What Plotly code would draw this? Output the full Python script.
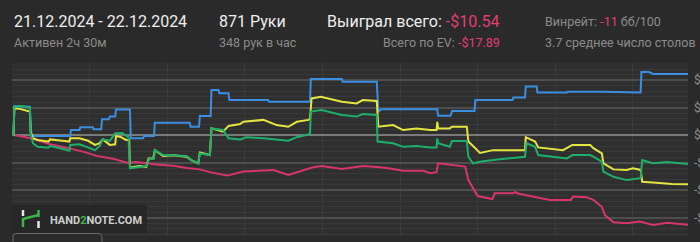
import plotly.graph_objects as go

# ---------------- data ----------------
blue_hands = [0, 2, 3, 23, 25, 75, 76, 87, 88, 104, 105, 115, 116, 125, 126, 133, 134, 152, 153, 169, 170, 183, 184,
              229, 230, 241, 242, 256, 257, 266, 267, 279, 280, 330, 331, 384, 385, 425, 426, 470, 472, 476, 548, 549,
              565, 567, 596, 597, 645, 646, 661, 662, 676, 677, 715, 716, 760, 790, 810, 811, 820, 826, 871]
blue_vals = [0, 0, 10.5, 10.3, -0.4, -0.4, 1.8, 1.8, 2.8, 2.8, 2.1, 2.1, 5.7, 5.7, 6.7, 6.7, 9.3, 9.3, -1.2, -1.2, -0.4,
             -0.4, 4.5, 4.5, 3.0, 3.0, 6.9, 6.9, 16.4, 16.4, 15.2, 15.2, 12.7, 12.7, 12.1, 12.1, 20.4, 20.4, 19.4, 19.4,
             8.5, 9.4, 9.4, 7.0, 7.0, 8.7, 8.7, 12.7, 12.7, 13.6, 13.6, 17.6, 17.6, 15.5, 15.5, 15.7, 15.7, 15.6, 15.5,
             22.9, 23.0, 22.2, 22.2]

red_hands = [0, 2, 10, 24, 36, 49, 70, 96, 109, 130, 148, 160, 186, 208, 225, 242, 255, 277, 281, 298, 337, 356, 388,
             399, 425, 452, 470, 483, 504, 530, 539, 547, 549, 564, 584, 588, 594, 600, 619, 622, 645, 649, 652, 661,
             680, 693, 720, 723, 740, 749, 760, 764, 775, 792, 809, 826, 844, 855, 871]
red_vals = [0, 0, -0.4, -1.2, -2.2, -3.4, -4.6, -6.4, -7.6, -8.6, -10.1, -9.8, -10.7, -11.2, -12.0, -12.5, -13.5, -14.7,
            -14.5, -13.3, -12.7, -14.5, -11.7, -11.3, -12.4, -11.3, -11.6, -12.0, -13.0, -13.0, -13.9, -13.5, -10.3,
            -10.9, -11.5, -16.4, -19.5, -22.2, -23.3, -21.2, -21.2, -20.8, -21.3, -21.8, -22.6, -23.6, -23.6, -22.4,
            -22.6, -23.6, -26.1, -29.1, -31.7, -32.1, -31.5, -32.7, -31.9, -32.2, -32.6]

green_hands = [0, 2, 3, 10, 23, 24, 27, 33, 47, 49, 62, 74, 75, 87, 96, 107, 113, 117, 126, 133, 142, 150, 152, 165,
               173, 177, 183, 184, 195, 225, 231, 240, 242, 255, 257, 272, 279, 294, 302, 324, 341, 356, 367, 380, 384,
               385, 399, 425, 444, 452, 470, 471, 491, 504, 521, 539, 547, 548, 549, 564, 567, 586, 588, 594, 603, 620,
               646, 661, 663, 674, 678, 715, 722, 745, 749, 760, 762, 775, 792, 810, 812, 826, 844, 855, 871]
green_vals = [0, 0, 10.3, 10.5, 10.0, 0.7, -3.0, -4.3, -4.6, -4.0, -4.8, -5.7, -3.6, -3.4, -4.3, -5.5, -4.0, -1.6, -2.1,
              0.6, 0.7, -0.8, -12.1, -11.6, -11.3, -8.5, -8.5, -5.5, -7.3, -7.6, -9.1, -10.3, -6.7, -7.3, 2.4, 1.8,
              -1.2, -1.6, -0.8, -1.2, -1.6, -2.1, -0.8, 0.0, 0.4, 8.5, 9.1, 7.3, 6.7, 7.6, 7.3, -2.4, -3.0, -4.3, -4.0,
              -4.5, -4.5, -1.2, -3.0, -4.3, -2.2, -2.2, -7.9, -10.3, -9.7, -9.1, -8.5, -7.9, -3.0, -4.3, -7.3, -8.5,
              -7.3, -7.3, -7.9, -9.7, -13.3, -15.2, -16.4, -15.7, -9.1, -10.3, -9.8, -10.0, -10.5]

yellow_hands = [0, 2, 3, 10, 23, 24, 27, 33, 47, 49, 62, 74, 75, 87, 98, 107, 113, 117, 126, 133, 134, 140, 147, 151,
                152, 165, 173, 176, 182, 184, 195, 208, 225, 231, 240, 242, 255, 257, 272, 279, 294, 298, 324, 341,
                356, 367, 382, 384, 386, 398, 425, 444, 452, 470, 472, 491, 504, 521, 539, 547, 548, 549, 564, 567,
                586, 588, 594, 603, 620, 661, 662, 674, 678, 710, 722, 745, 749, 760, 762, 775, 792, 800, 810, 812,
                830, 850, 871]
yellow_vals = [0, 0, 9.7, 9.5, 8.5, 1.2, -1.2, -1.8, -2.4, -1.6, -2.0, -2.4, -1.2, -1.2, -2.1, -3.6, -3.0, -1.6, -3.6,
               -3.4, -0.4, -0.7, -1.8, -1.8, -11.8, -11.3, -11.6, -8.5, -8.5, -5.5, -7.6, -7.4, -7.9, -9.1, -10.3,
               -6.4, -7.3, 2.4, 1.2, 3.3, 4.0, 4.8, 5.5, 3.6, 3.0, 4.8, 5.5, 6.0, 13.3, 13.9, 12.1, 11.5, 12.7, 12.4,
               3.0, 3.6, 1.8, 2.4, 1.8, 1.8, 4.8, 2.4, 2.4, 3.0, 3.0, -2.4, -4.0, -6.5, -5.5, -5.5, -0.8, -2.4, -4.5,
               -5.5, -3.6, -3.6, -4.8, -6.7, -10.3, -12.5, -12.7, -12.1, -12.7, -17.0, -17.4, -17.8, -17.9]

x_tick_vals = [100, 200, 300, 400, 500, 600, 700, 800]
x_tick_text = ["100", "200", "300", "400", "500", "600", "700", "800"]
y_tick_vals = [-30, -20, -10, 0, 10, 20]
y_tick_text = ["-$30", "-$20", "-$10", "$0", "$10", "$20"]

total_hands = 871

# ---------------- style ----------------
W, H = 700, 242
ML, MR, MT, MB = 12, 12, 63, 6
PW, PH = W - ML - MR, H - MT - MB

BG = "#2a2a2a"
PLOT_BG = "#2f2f2f"
WHITE = "#eeeeee"
GRAY = "#8c8c8c"
PINK = "#e33d71"
FONT = "Roboto"


def xp(px):
    return (px - ML) / PW


def yp(py):
    return (H - MB - py) / PH


fig = go.Figure()
for hands, vals, col in [(blue_hands, blue_vals, "#3a8fe3"),
                         (red_hands, red_vals, "#d8356c"),
                         (yellow_hands, yellow_vals, "#e5e540"),
                         (green_hands, green_vals, "#1eaf6a")]:
    fig.add_trace(go.Scatter(x=hands, y=vals, mode="lines",
                             line=dict(color=col, width=2), hoverinfo="skip"))

fig.update_layout(
    width=W, height=H,
    margin=dict(l=ML, r=MR, t=MT, b=MB, pad=0),
    paper_bgcolor=BG, plot_bgcolor=PLOT_BG,
    showlegend=False,
    font=dict(family=FONT, color=GRAY, size=12),
    xaxis=dict(range=[0, total_hands], tickvals=x_tick_vals, ticktext=x_tick_text,
               showgrid=True, gridcolor="#3a3a3a", gridwidth=1, zeroline=False,
               showline=False, ticks="", automargin=False, ticklabelstandoff=3,
               tickfont=dict(family=FONT, size=12, color=GRAY)),
    yaxis=dict(range=[(135 - 236) / 2.75, (135 - 63) / 2.75], side="right",
               tickvals=y_tick_vals, ticktext=y_tick_text,
               showgrid=True, gridcolor="#4e4e4e", gridwidth=1.5,
               minor=dict(dtick=2, showgrid=True, gridcolor="#383838", gridwidth=1),
               zeroline=True, zerolinecolor="#7a7a7a", zerolinewidth=2,
               showline=False, ticks="", automargin=False, ticklabelstandoff=5,
               tickfont=dict(family=FONT, size=12, color=GRAY)),
)

ann = []


def txt(x, y, text, size, color, xanchor="left"):
    ann.append(dict(x=xp(x), y=yp(y), xref="paper", yref="paper", text=text,
                    showarrow=False, xanchor=xanchor, yanchor="middle",
                    font=dict(family=FONT, size=size, color=color)))


txt(12, 21.5, "21.12.2024 - 22.12.2024", 16, WHITE)
txt(12, 42, "Активен 2ч 30м", 12.5, GRAY)
txt(217, 21.5, "871 Руки", 16, WHITE)
txt(217, 42, "348 рук в час", 12.5, GRAY)
txt(325, 21.5, 'Выиграл всего: <span style="color:%s">-$10.54</span>' % PINK, 16, WHITE)
txt(502, 42, 'Всего по EV: <span style="color:%s">-$17.89</span>' % PINK, 12.5, GRAY, "right")
txt(543, 21.5, 'Винрейт: <span style="color:%s">-11</span> бб/100' % PINK, 12.5, GRAY)
txt(543, 42, "3.7 среднее число столов", 12.5, GRAY)

# logo
txt(48, 220, '<b>HAND<span style="color:#3cb44a">2</span>NOTE.COM</b>', 11, "#cfcfcf")
# button text (mostly cut off)
txt(57, 248, "ОБНОВИТЬ", 12, "#9a9a9a", "center")
txt(26, 248, "↻", 12, "#9a9a9a", "center")

fig.update_layout(annotations=ann)

shapes = []
# logo box
shapes.append(dict(type="rect", xref="paper", yref="paper", layer="above",
                   x0=xp(12), x1=xp(147), y0=yp(233), y1=yp(205),
                   fillcolor="#272727", line=dict(width=0)))
# logo icon
ic = "#e6e6e6"
gc = "#3cb44a"
shapes += [
    dict(type="line", xref="paper", yref="paper", layer="above", x0=xp(23), x1=xp(23), y0=yp(210), y1=yp(216),
         line=dict(color=ic, width=2.5)),
    dict(type="line", xref="paper", yref="paper", layer="above", x0=xp(23), x1=xp(23), y0=yp(218), y1=yp(227),
         line=dict(color=gc, width=2.5)),
    dict(type="line", xref="paper", yref="paper", layer="above", x0=xp(23), x1=xp(38.5), y0=yp(219), y1=yp(215),
         line=dict(color=gc, width=2.5)),
    dict(type="line", xref="paper", yref="paper", layer="above", x0=xp(38.5), x1=xp(38.5), y0=yp(210), y1=yp(217),
         line=dict(color=gc, width=2.5)),
    dict(type="line", xref="paper", yref="paper", layer="above", x0=xp(38.5), x1=xp(38.5), y0=yp(221), y1=yp(228),
         line=dict(color=ic, width=2.5)),
]
# button
bx0, bx1, by0, by1, r = 13, 102, 233.5, 252, 4
path = ("M %f,%f L %f,%f Q %f,%f %f,%f L %f,%f Q %f,%f %f,%f L %f,%f Z" % (
    xp(bx0), yp(by1), xp(bx0), yp(by0 + r), xp(bx0), yp(by0), xp(bx0 + r), yp(by0),
    xp(bx1 - r), yp(by0), xp(bx1), yp(by0), xp(bx1), yp(by0 + r), xp(bx1), yp(by1)))
shapes.append(dict(type="path", xref="paper", yref="paper", layer="above", path=path,
                   fillcolor=BG, line=dict(color="#6e6e6e", width=1)))
fig.update_layout(shapes=shapes)

fig.write_html("out.html")
